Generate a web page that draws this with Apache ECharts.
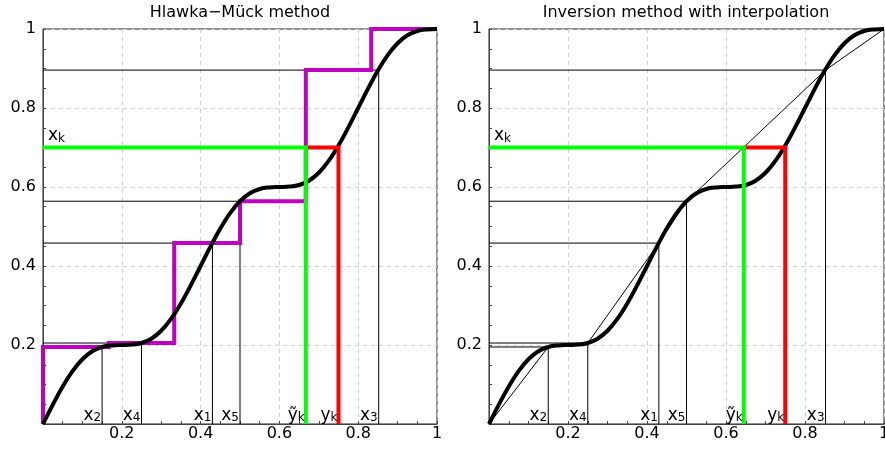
<!DOCTYPE html>
<html>
<head>
<meta charset="utf-8">
<script src="https://cdn.jsdelivr.net/npm/echarts@6/dist/echarts.min.js"></script>
<style>
html, body { margin: 0; padding: 0; background: #fff; }
#main { width: 885px; height: 450px; }
</style>
</head>
<body>
<div id="main"></div>
<script>
// black CDF curve, every 0.025
var curveX = [0, 0.025, 0.05, 0.075, 0.1, 0.125, 0.15, 0.175, 0.2, 0.225, 0.25, 0.275, 0.3, 0.325, 0.35, 0.375, 0.4,
    0.425, 0.45, 0.475, 0.5, 0.525, 0.55, 0.575, 0.6, 0.625, 0.65, 0.675, 0.7, 0.725, 0.75, 0.775, 0.8,
    0.825, 0.85, 0.875, 0.9, 0.925, 0.95, 0.975, 1];
var curveY = [0, 0.049, 0.095, 0.134, 0.164, 0.184, 0.195, 0.199, 0.2, 0.201, 0.205, 0.216, 0.236, 0.266, 0.305, 0.351, 0.4,
    0.449, 0.495, 0.534, 0.564, 0.584, 0.595, 0.599, 0.6, 0.601, 0.605, 0.616, 0.636, 0.666, 0.705, 0.751, 0.8,
    0.849, 0.895, 0.934, 0.964, 0.984, 0.995, 0.999, 1];

// sample points x1..x5 and F(xi)
var sampleX = [0.43, 0.15, 0.852, 0.25, 0.5];
var sampleF = [0.458, 0.195, 0.896, 0.205, 0.564];
var sampleName = ['1', '2', '3', '4', '5'];

// Hlawka-Mück step function (magenta)
var stepX = [0, 0.167, 0.333, 0.5, 0.667, 0.833, 1];
var stepY = [0.195, 0.205, 0.458, 0.564, 0.896, 1];

// interpolation end points (right panel)
var endX = [0, 1];
var endY = [0, 1];

var xk = 0.7;
var yTilde = [0.667, 0.645];   // left panel, right panel
var yk = 0.75;

var tickLabels = ['', '0.2', '0.4', '0.6', '0.8', '1'];
var titles = ['Hlawka\u2212Mück method', 'Inversion method with interpolation'];

var FONT = '"DejaVu Sans", sans-serif';
var chart = echarts.init(document.getElementById('main'));

var rich = {
    m: { fontSize: 17, fontFamily: FONT, color: '#000', lineHeight: 19, verticalAlign: 'bottom' },
    s: { fontSize: 12, fontFamily: FONT, color: '#000', lineHeight: 12, verticalAlign: 'bottom' }
};

function tickFmt(v) {
    return tickLabels[Math.round(v * 5)];
}

function axisOpts(g, margin) {
    return {
        gridIndex: g, type: 'value', min: 0, max: 1, interval: 0.2,
        axisLine: { show: true, onZero: false, lineStyle: { color: '#444', width: 1 } },
        axisTick: { show: true, inside: true, length: 3, lineStyle: { color: '#444' } },
        minorTick: { show: true, splitNumber: 4, length: 3, lineStyle: { color: '#444' } },
        splitLine: { show: true, lineStyle: { color: '#cfcfcf', type: [4, 4], width: 1 } },
        axisLabel: { fontSize: 16, fontFamily: FONT, color: '#000', formatter: tickFmt, margin: margin }
    };
}

function line(g, data, color, width, z) {
    return {
        type: 'line', xAxisIndex: g, yAxisIndex: g, data: data, z: z,
        symbol: 'none', animation: false, silent: true,
        lineStyle: { color: color, width: width, cap: 'butt', join: 'miter' }
    };
}

var series = [];
[0, 1].forEach(function (g) {
    // thin guide lines from the axis to each sample and down
    for (var i = 0; i < sampleX.length; i++) {
        series.push(line(g, [[0, sampleF[i]], [sampleX[i], sampleF[i]], [sampleX[i], 0]], '#000', 1, 2));
    }
    if (g === 0) {
        var st = [[0, 0]];
        for (var j = 0; j < stepY.length; j++) {
            st.push([stepX[j], stepY[j]]);
            st.push([stepX[j + 1], stepY[j]]);
        }
        series.push(line(g, st, '#c000c0', 4, 3));
    } else {
        var pts = [[endX[0], endY[0]]];
        var order = sampleX.map(function (x, i) { return i; }).sort(function (a, b) { return sampleX[a] - sampleX[b]; });
        order.forEach(function (i) { pts.push([sampleX[i], sampleF[i]]); });
        pts.push([endX[1], endY[1]]);
        series.push(line(g, pts, '#000', 1, 3));
    }
    var cv = line(g, curveX.map(function (x, i) { return [x, curveY[i]]; }), '#000', 4, 4);
    cv.smooth = 0.4;
    cv.lineStyle.join = 'round';
    series.push(cv);
    series.push(line(g, [[0, xk], [yTilde[g], xk], [yTilde[g], 0]], '#00ff00', 4, 6));
    series.push(line(g, [[yTilde[g], xk], [yk, xk], [yk, 0]], '#ff0000', 4, 5));

    // text labels
    var lab = sampleX.map(function (x, i) {
        return { value: [x, 0], label: { formatter: '{m|x}{s|' + sampleName[i] + '}' } };
    });
    lab.push({ value: [yTilde[g], 0], label: { formatter: '{m|\u1ef9}{s|k}' } });
    lab.push({ value: [yk, 0], label: { formatter: '{m|y}{s|k}' } });
    series.push({
        type: 'scatter', xAxisIndex: g, yAxisIndex: g, data: lab, z: 10,
        symbol: 'circle', symbolSize: 0, itemStyle: { color: '#000', opacity: 1 }, animation: false, silent: true,
        label: { show: true, color: '#000', opacity: 1, position: 'left', distance: 1, verticalAlign: 'bottom', offset: [0, 0], rich: rich }
    });
    series.push({
        type: 'scatter', xAxisIndex: g, yAxisIndex: g, z: 10,
        data: [{ value: [0, xk], label: { formatter: '{m|x}{s|k}' } }],
        symbol: 'circle', symbolSize: 0, itemStyle: { color: '#000', opacity: 1 }, animation: false, silent: true,
        label: { show: true, color: '#000', opacity: 1, position: 'right', distance: 5, verticalAlign: 'bottom', offset: [0, -3], rich: rich }
    });
});

var option = {
    backgroundColor: '#fff',
    animation: false,
    graphic: [
        { type: 'text', x: 240, y: 13, style: { text: titles[0], fontSize: 16, fontFamily: FONT, fill: '#000', align: 'center', verticalAlign: 'middle' } },
        { type: 'text', x: 686, y: 13, style: { text: titles[1], fontSize: 16, fontFamily: FONT, fill: '#000', align: 'center', verticalAlign: 'middle' } }
    ],
    grid: [
        { left: 43, top: 29, width: 394, height: 395, show: true, borderColor: '#222', borderWidth: 1, outerBoundsMode: 'none', containLabel: false },
        { left: 489, top: 29, width: 395, height: 395, show: true, borderColor: '#222', borderWidth: 1, outerBoundsMode: 'none', containLabel: false }
    ],
    xAxis: [axisOpts(0, 2), axisOpts(1, 2)],
    yAxis: [axisOpts(0, 7), axisOpts(1, 7)],
    series: series
};
option && chart.setOption(option);
</script>
</body>
</html>
